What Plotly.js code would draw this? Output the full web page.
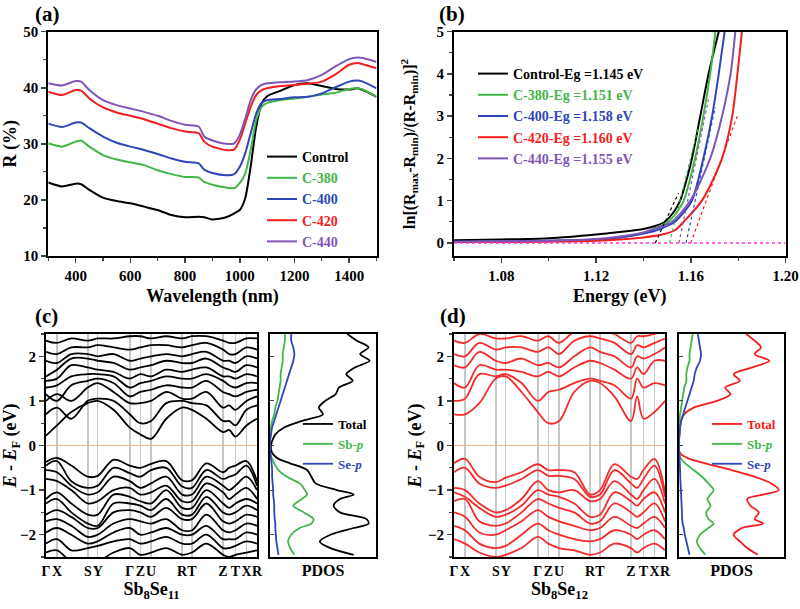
<!DOCTYPE html>
<html><head><meta charset="utf-8">
<script src="https://cdn.plot.ly/plotly-3.0.1.min.js"></script>
<style>html,body{margin:0;padding:0;background:#fff}#plot{width:800px;height:609px}</style>
</head><body><div id="plot"></div>
<script>
// ---------- (a) reflectance ----------
const wavelength = [300,350,400,420,450,500,550,600,650,700,750,800,850,870,900,950,980,1000,1020,1040,1060,1080,1100,1150,1200,1250,1300,1350,1400,1430,1450,1500];
const rControl = [23.1,22.4,22.9,22.8,21.8,20.4,19.8,19.4,18.8,18.2,17.3,16.9,17.0,16.9,16.5,16.9,17.6,18.2,20.3,26.0,33.0,37.2,38.5,39.5,40.5,40.8,40.3,39.8,39.7,39.9,39.6,38.4];
const rC380 = [30.1,29.5,30.4,30.6,29.5,28.0,27.2,26.7,26.2,25.3,24.6,24.1,24.0,23.2,22.7,22.2,22.1,23.0,24.7,28.9,34.2,36.6,37.3,37.8,38.1,38.4,38.8,39.1,39.8,39.9,39.7,38.4];
const rC400 = [33.6,33.0,33.8,33.8,32.8,31.3,30.2,29.5,28.9,28.2,27.4,26.8,26.5,25.4,24.8,24.4,24.6,25.9,28.3,31.9,35.4,37.3,37.8,38.0,38.3,38.4,39.0,40.1,41.1,41.3,41.1,39.9];
const rC420 = [39.3,38.7,39.6,39.5,38.1,36.5,35.6,35.0,34.4,33.6,32.8,32.2,31.9,30.4,29.5,28.9,29.0,30.7,33.6,36.6,38.7,39.6,39.9,40.3,40.5,40.7,41.1,42.4,44.1,44.4,44.2,43.5];
const rC440 = [40.8,40.4,41.2,41.1,39.6,37.8,36.9,36.3,35.7,35.0,34.1,33.4,33.1,31.3,30.6,30.0,30.1,31.6,34.5,37.8,39.7,40.5,40.8,41.0,41.1,41.4,42.3,43.8,45.1,45.4,45.3,44.6];
const sampleNames = ["Control","C-380","C-400","C-420","C-440"];

// ---------- (b) band-gap extraction ----------
const eCtrl = [1.06,1.08,1.10,1.12,1.13,1.14,1.145,1.149,1.153,1.1555,1.158,1.1605,1.164,1.1675,1.1718];
const vCtrl = [0.06,0.08,0.11,0.2,0.26,0.33,0.4,0.5,0.75,1.0,1.45,2.0,3.0,4.0,5.0];
const e380 = [1.06,1.08,1.10,1.12,1.13,1.14,1.145,1.1505,1.154,1.157,1.1618,1.1653,1.1682,1.1704];
const v380 = [0.02,0.03,0.05,0.08,0.13,0.24,0.35,0.5,0.72,1.0,2.0,3.0,4.0,5.0];
const e400 = [1.06,1.08,1.10,1.12,1.13,1.14,1.147,1.1533,1.157,1.1605,1.1653,1.169,1.1718,1.1743];
const v400 = [0.03,0.04,0.05,0.08,0.13,0.22,0.33,0.5,0.72,1.0,2.0,3.0,4.0,5.0];
const e420 = [1.06,1.08,1.10,1.12,1.13,1.14,1.148,1.1533,1.157,1.1647,1.1732,1.1775,1.1797,1.1816];
const v420 = [0.02,0.02,0.03,0.05,0.08,0.13,0.2,0.3,0.5,1.0,2.0,3.0,4.0,5.0];
const e440 = [1.06,1.08,1.10,1.12,1.13,1.14,1.147,1.152,1.1598,1.1682,1.1732,1.1768,1.1788];
const v440 = [0.03,0.04,0.05,0.09,0.15,0.25,0.38,0.5,1.0,2.0,3.0,4.0,5.0];
const bandGaps = [1.145,1.151,1.158,1.160,1.155];
const fitEndE = [1.1548,1.1633,1.1703,1.1796,1.1675];
const fitEndV = [1.18,2.76,3.2,3.0,3.4];
const baselineE = [1.06,1.20];
const baselineV = [0,0];

// ---------- (c),(d) band structures ----------
const kPath = [0,0.052,0.198,0.245,0.397,0.447,0.498,0.645,0.692,0.839,0.898,0.950,1.0];
const kLabels = ["Γ","X","S","Y","Γ","Z","U","R","T","Z","T","X","R"];
const kSample = [0,0.052,0.12,0.198,0.245,0.32,0.397,0.447,0.498,0.57,0.645,0.692,0.76,0.839,0.868,0.898,0.95,1.0];

const bandsSe11 = [
 [0.22,0.45,0.75,0.95,1.0,0.8,0.4,0.25,0.15,0.6,0.85,0.8,0.6,0.3,0.35,0.2,0.45,0.6],
 [0.7,0.85,0.6,1.0,1.05,1.0,0.7,0.5,0.55,0.95,1.0,0.95,0.9,0.55,0.55,0.45,0.8,0.9],
 [1.0,1.15,1.0,1.3,1.4,1.2,0.95,0.95,1.0,1.2,1.05,1.05,1.2,0.85,0.9,0.8,1.0,1.1],
 [1.15,1.0,1.35,1.45,1.5,1.4,1.1,1.2,1.25,1.35,1.3,1.3,1.45,1.2,1.15,1.1,1.2,1.25],
 [1.3,1.35,1.55,1.6,1.6,1.55,1.3,1.4,1.45,1.55,1.5,1.5,1.6,1.45,1.35,1.3,1.4,1.4],
 [1.45,1.5,1.8,1.75,1.7,1.65,1.5,1.6,1.55,1.7,1.65,1.7,1.75,1.55,1.55,1.5,1.6,1.55],
 [1.55,1.7,1.95,1.95,1.9,1.85,1.7,1.75,1.8,1.9,1.85,1.85,1.95,1.75,1.7,1.65,1.8,1.75],
 [1.9,1.85,2.05,2.05,2.0,2.05,1.9,1.95,2.0,2.05,2.0,2.05,2.1,1.9,1.9,1.85,2.0,1.95],
 [2.1,2.05,2.2,2.2,2.25,2.2,2.15,2.2,2.25,2.25,2.2,2.25,2.3,2.15,2.05,2.05,2.2,2.15],
 [2.35,2.3,2.4,2.35,2.4,2.4,2.45,2.45,2.4,2.45,2.4,2.45,2.45,2.35,2.3,2.3,2.4,2.4],
 [-0.37,-0.28,-0.45,-0.7,-0.68,-0.32,-0.45,-0.5,-0.41,-0.35,-0.78,-0.78,-0.4,-0.6,-0.5,-0.45,-0.35,-0.8],
 [-0.45,-0.35,-0.8,-0.95,-0.9,-0.5,-0.62,-0.7,-0.55,-0.5,-0.92,-0.95,-0.55,-0.75,-0.7,-0.65,-0.45,-0.9],
 [-0.55,-0.6,-0.9,-1.1,-1.05,-0.7,-0.8,-0.95,-0.85,-0.7,-1.1,-1.1,-0.7,-0.9,-1.0,-0.9,-0.7,-1.0],
 [-0.75,-0.8,-1.0,-1.3,-1.25,-1.0,-0.95,-1.1,-1.05,-0.9,-1.25,-1.25,-0.85,-1.05,-1.2,-1.1,-0.95,-1.2],
 [-1.2,-1.05,-1.3,-1.55,-1.55,-1.1,-1.15,-1.25,-1.3,-1.0,-1.4,-1.4,-1.0,-1.3,-1.4,-1.3,-1.2,-1.3],
 [-1.3,-1.2,-1.5,-1.75,-1.8,-1.3,-1.3,-1.35,-1.45,-1.2,-1.55,-1.55,-1.15,-1.5,-1.55,-1.5,-1.35,-1.45],
 [-1.55,-1.45,-1.6,-1.85,-1.85,-1.5,-1.45,-1.5,-1.6,-1.4,-1.65,-1.65,-1.3,-1.7,-1.75,-1.7,-1.55,-1.6],
 [-1.7,-1.65,-1.8,-2.05,-2.0,-1.75,-1.65,-1.7,-1.75,-1.65,-1.9,-1.9,-1.55,-1.9,-1.95,-1.9,-1.75,-1.8],
 [-1.95,-1.85,-2.0,-2.2,-2.15,-1.95,-1.85,-2.0,-1.95,-1.85,-2.0,-2.0,-1.8,-2.1,-2.1,-2.1,-1.95,-2.0],
 [-2.2,-2.1,-2.35,-2.3,-2.25,-2.15,-2.1,-2.2,-2.15,-2.05,-2.2,-2.2,-2.0,-2.3,-2.3,-2.25,-2.15,-2.2],
 [-2.4,-2.35,-2.6,-2.6,-2.6,-2.4,-2.3,-2.45,-2.4,-2.3,-2.45,-2.4,-2.2,-2.45,-2.5,-2.45,-2.4,-2.35]
];
const bandsSe12 = [
 [0.7,0.7,0.95,1.5,1.55,1.2,0.75,0.5,0.55,1.2,1.45,1.4,1.1,0.55,1.1,0.6,0.75,1.0],
 [1.0,1.05,1.6,1.55,1.6,1.4,1.0,1.2,1.25,1.4,1.5,1.45,1.35,1.05,1.5,1.3,1.4,1.35],
 [1.4,1.3,1.8,1.7,1.7,1.65,1.55,1.65,1.55,1.75,1.9,1.85,1.7,1.5,1.75,1.6,1.9,1.9],
 [1.8,1.75,2.1,1.9,1.85,1.95,1.8,1.85,1.75,2.0,2.2,2.1,2.0,1.75,2.0,1.95,2.05,2.2],
 [2.05,2.0,2.3,2.15,2.2,2.2,2.1,2.2,2.05,2.35,2.45,2.4,2.3,2.05,2.25,2.2,2.3,2.4],
 [2.35,2.3,2.5,2.4,2.4,2.45,2.35,2.45,2.3,2.55,2.6,2.6,2.5,2.3,2.45,2.45,2.5,2.6],
 [-0.4,-0.3,-0.7,-0.82,-0.72,-0.6,-0.42,-0.55,-0.55,-0.6,-1.1,-1.0,-0.42,-0.7,-0.75,-0.55,-0.3,-1.05],
 [-0.6,-0.5,-0.85,-0.95,-0.9,-0.75,-0.55,-0.68,-0.68,-0.75,-1.15,-1.1,-0.55,-0.85,-0.95,-0.75,-0.45,-1.15],
 [-0.95,-1.0,-1.3,-1.5,-1.45,-1.2,-0.8,-1.0,-1.05,-1.0,-1.25,-1.2,-0.8,-1.1,-1.2,-1.0,-0.75,-1.3],
 [-1.05,-1.15,-1.4,-1.6,-1.55,-1.35,-1.0,-1.1,-1.15,-1.3,-1.6,-1.55,-1.05,-1.25,-1.35,-1.2,-1.05,-1.5],
 [-1.25,-1.2,-1.7,-1.8,-1.75,-1.5,-1.2,-1.3,-1.4,-1.5,-1.75,-1.7,-1.3,-1.5,-1.6,-1.5,-1.3,-1.7],
 [-1.5,-1.6,-1.95,-2.0,-1.9,-1.7,-1.45,-1.6,-1.7,-1.8,-1.9,-1.85,-1.6,-1.8,-1.85,-1.75,-1.6,-1.85],
 [-1.8,-1.9,-2.2,-2.3,-2.25,-2.0,-1.75,-1.9,-2.0,-2.1,-2.15,-2.1,-1.9,-2.0,-2.1,-2.0,-1.9,-2.1],
 [-2.1,-2.2,-2.4,-2.5,-2.45,-2.3,-2.05,-2.2,-2.3,-2.35,-2.45,-2.4,-2.2,-2.3,-2.4,-2.3,-2.2,-2.35]
];

// ---------- PDOS ----------
const pdosEnergy = [2.5,2.35,2.2,2.05,1.9,1.75,1.6,1.45,1.3,1.15,1.0,0.85,0.7,0.55,0.4,0.25,0.1,0.0,-0.1,-0.2,-0.3,-0.4,-0.55,-0.7,-0.85,-1.0,-1.1,-1.2,-1.35,-1.5,-1.65,-1.75,-1.85,-2.0,-2.15,-2.3,-2.45];
const totalSe11 = [0.73,0.82,0.93,0.85,0.94,0.8,0.72,0.78,0.65,0.62,0.52,0.46,0.5,0.3,0.13,0.05,0.02,0.01,0.01,0.03,0.08,0.19,0.35,0.39,0.43,0.63,0.79,0.66,0.6,0.66,0.91,0.93,0.79,0.57,0.47,0.57,0.79];
const sbpSe11 = [0.14,0.14,0.13,0.12,0.12,0.11,0.1,0.1,0.09,0.08,0.07,0.05,0.04,0.02,0.01,0.005,0,0,0,0.005,0.02,0.04,0.08,0.16,0.28,0.33,0.35,0.3,0.22,0.32,0.41,0.39,0.28,0.2,0.17,0.19,0.23];
const sepSe11 = [0.2,0.2,0.22,0.23,0.22,0.2,0.18,0.16,0.14,0.12,0.1,0.08,0.06,0.04,0.02,0.01,0,0,0,0.005,0.01,0.015,0.02,0.02,0.025,0.03,0.03,0.035,0.04,0.04,0.045,0.05,0.05,0.055,0.06,0.07,0.08];
const totalSe12 = [0.64,0.72,0.78,0.72,0.86,0.7,0.52,0.58,0.44,0.49,0.36,0.14,0.05,0.02,0.01,0.005,0,0,0,0.02,0.1,0.25,0.5,0.72,0.88,0.95,0.8,0.65,0.68,0.76,0.72,0.8,0.6,0.52,0.58,0.65,0.75];
const sbpSe12 = [0.13,0.12,0.11,0.1,0.1,0.08,0.07,0.07,0.05,0.04,0.03,0.02,0.01,0.005,0,0,0,0,0,0.005,0.02,0.06,0.14,0.22,0.28,0.33,0.3,0.27,0.3,0.26,0.28,0.33,0.28,0.2,0.17,0.2,0.25];
const sepSe12 = [0.18,0.19,0.2,0.21,0.2,0.17,0.15,0.14,0.12,0.1,0.08,0.06,0.04,0.02,0.01,0.005,0,0,0,0.003,0.005,0.008,0.01,0.012,0.015,0.018,0.02,0.022,0.025,0.028,0.03,0.035,0.045,0.055,0.07,0.085,0.1];

// ---------- styling ----------
const colors = ["#000000","#43b649","#2e46b9","#f51d1d","#7f56b8"];
const FONT = "Liberation Serif, Times New Roman, serif";
const tickFont = {family: FONT, size: 15, color: "#000", weight: "bold"};
const titleFont = {family: FONT, size: 18, color: "#000", weight: "bold"};
const W = 800, H = 609;
const px = v => v / W, py = v => 1 - v / H;

const traces = [];
const rSeries = [rControl, rC380, rC400, rC420, rC440];
rSeries.forEach((r, i) => traces.push({
  x: wavelength, y: r, type: "scatter", mode: "lines", line: {color: colors[i], width: 2, shape: "spline", smoothing: 0.6},
  name: '<span style="color:' + colors[i] + '">' + sampleNames[i] + '</span>', xaxis: "x", yaxis: "y", legend: "legend"
}));

const eSeries = [eCtrl, e380, e400, e420, e440];
const vSeries = [vCtrl, v380, v400, v420, v440];
eSeries.forEach((e, i) => traces.push({
  x: e, y: vSeries[i], type: "scatter", mode: "lines", line: {color: colors[i], width: 2, shape: "spline", smoothing: 0.8},
  name: '<span style="color:' + colors[i] + '">' + sampleNames[i] + '-Eg =' + bandGaps[i].toFixed(3) + ' eV</span>',
  xaxis: "x2", yaxis: "y2", legend: "legend2"
}));
bandGaps.forEach((g, i) => traces.push({
  x: [g, fitEndE[i]], y: [0, fitEndV[i]], type: "scatter", mode: "lines",
  line: {color: colors[i], width: 1.2, dash: "dot"}, showlegend: false, xaxis: "x2", yaxis: "y2"
}));
traces.push({x: baselineE, y: baselineV, type: "scatter", mode: "lines", line: {color: "#ff33cc", width: 1.5, dash: "dot"}, showlegend: false, xaxis: "x2", yaxis: "y2"});

bandsSe11.forEach(b => traces.push({x: kSample, y: b, type: "scatter", mode: "lines", line: {color: "#000", width: 1.8, shape: "spline", smoothing: 1}, showlegend: false, xaxis: "x3", yaxis: "y3"}));
bandsSe12.forEach(b => traces.push({x: kSample, y: b, type: "scatter", mode: "lines", line: {color: "#f52a2a", width: 1.8, shape: "spline", smoothing: 1}, showlegend: false, xaxis: "x5", yaxis: "y5"}));

const pdosC = [[totalSe11, "#000000", "Total"], [sbpSe11, "#43b649", "Sb-<i>p</i>"], [sepSe11, "#2e46b9", "Se-<i>p</i>"]];
pdosC.forEach(p => traces.push({x: p[0], y: pdosEnergy, type: "scatter", mode: "lines", line: {color: p[1], width: 1.8, shape: "spline", smoothing: 0.8},
  name: '<span style="color:' + p[1] + '">' + p[2] + '</span>', xaxis: "x4", yaxis: "y4", legend: "legend3"}));
const pdosD = [[totalSe12, "#f51d1d", "Total"], [sbpSe12, "#43b649", "Sb-<i>p</i>"], [sepSe12, "#2e46b9", "Se-<i>p</i>"]];
pdosD.forEach(p => traces.push({x: p[0], y: pdosEnergy, type: "scatter", mode: "lines", line: {color: p[1], width: 1.8, shape: "spline", smoothing: 0.8},
  name: '<span style="color:' + p[1] + '">' + p[2] + '</span>', xaxis: "x6", yaxis: "y6", legend: "legend4"}));

const frame = {showline: true, linecolor: "#000", linewidth: 2, mirror: true, zeroline: false, showgrid: false, tickfont: tickFont, automargin: false};
const topRow = [py(256), py(31.7)], botRow = [py(557), py(334)];
const bandY = Object.assign({}, frame, {range: [-2.5, 2.5], tickvals: [-2, -1, 0, 1, 2], ticks: "outside", ticklen: 5, tickwidth: 1.5,
  minor: {ticks: "outside", ticklen: 3, dtick: 0.5, tickwidth: 1.2}, zeroline: true, zerolinecolor: "#f7b58f", zerolinewidth: 1.5});
const eTitle = "<i>E</i> - <i>E</i><sub>F</sub> (eV)";
const bandX = Object.assign({}, frame, {range: [0, 1], tickvals: kPath, ticktext: kLabels, ticks: "", tickangle: 0, showgrid: true, gridcolor: "#c6c6c6", gridwidth: 1.5,
  tickfont: {family: FONT, size: 14, color: "#000", weight: "bold"}});
const pdosY = Object.assign({}, frame, {range: [-2.5, 2.5], tickvals: [-2, -1, 0, 1, 2], ticks: "inside", ticklen: 4, showticklabels: false});
const pdosX = Object.assign({}, frame, {range: [0, 1.0], showticklabels: false, ticks: "", title: {text: "PDOS", font: {family: FONT, size: 16, color: "#000", weight: "bold"}, standoff: 7}});

const legBase = {bgcolor: "rgba(0,0,0,0)", borderwidth: 0, xanchor: "left", yanchor: "top", tracegroupgap: 0, itemclick: false};
const legFont14 = {family: FONT, size: 14, color: "#000", weight: "bold"};
const legFont13 = {family: FONT, size: 13, color: "#000", weight: "bold"};

const layout = {
  width: W, height: H, margin: {l: 0, r: 0, t: 0, b: 0}, paper_bgcolor: "#fff", plot_bgcolor: "#fff", showlegend: true,
  font: {family: FONT, color: "#000"},
  xaxis: Object.assign({}, frame, {anchor: "y", domain: [px(48.3), px(376.5)], range: [300, 1500], tickvals: [400, 600, 800, 1000, 1200, 1400], ticks: "outside", ticklen: 5, tickwidth: 1.5,
    minor: {ticks: "outside", ticklen: 3, dtick: 100, tickwidth: 1.2}, title: {text: "Wavelength (nm)", font: titleFont, standoff: 6}}),
  yaxis: Object.assign({}, frame, {anchor: "x", domain: topRow, range: [10, 50], dtick: 10, ticks: "outside", ticklen: 5, tickwidth: 1.5,
    minor: {ticks: "outside", ticklen: 3, dtick: 5, tickwidth: 1.2}, title: {text: "R (%)", font: titleFont, standoff: 9}}),
  xaxis2: Object.assign({}, frame, {anchor: "y2", domain: [px(454), px(785.5)], range: [1.06, 1.20], tickvals: [1.08, 1.12, 1.16, 1.20], tickformat: ".2f", ticks: "outside", ticklen: 5, tickwidth: 1.5,
    minor: {ticks: "outside", ticklen: 3, dtick: 0.02, tickwidth: 1.2}, title: {text: "Energy (eV)", font: titleFont, standoff: 6}}),
  yaxis2: Object.assign({}, frame, {anchor: "x2", domain: topRow, range: [-0.31, 5], dtick: 1, ticks: "outside", ticklen: 5, tickwidth: 1.5,
    minor: {ticks: "outside", ticklen: 3, dtick: 0.5, tickwidth: 1.2},
    title: {text: "ln[(R<sub>max</sub>-R<sub>min</sub>)/(R-R<sub>min</sub>)]<sup>2</sup>", font: {family: FONT, size: 16, color: "#000", weight: "bold"}, standoff: 17}}),
  xaxis3: Object.assign({}, bandX, {anchor: "y3", domain: [px(46), px(257)], title: {text: "Sb<sub>8</sub>Se<sub>11</sub>", font: titleFont, standoff: 5}}),
  yaxis3: Object.assign({}, bandY, {anchor: "x3", domain: botRow, title: {text: eTitle, font: titleFont, standoff: 9}}),
  xaxis4: Object.assign({}, pdosX, {anchor: "y4", domain: [px(270), px(376)]}),
  yaxis4: Object.assign({}, pdosY, {anchor: "x4", domain: botRow}),
  xaxis5: Object.assign({}, bandX, {anchor: "y5", domain: [px(454), px(665)], title: {text: "Sb<sub>8</sub>Se<sub>12</sub>", font: titleFont, standoff: 5}}),
  yaxis5: Object.assign({}, bandY, {anchor: "x5", domain: botRow, title: {text: eTitle, font: titleFont, standoff: 2}}),
  xaxis6: Object.assign({}, pdosX, {anchor: "y6", domain: [px(679), px(784)]}),
  yaxis6: Object.assign({}, pdosY, {anchor: "x6", domain: botRow}),
  legend: Object.assign({}, legBase, {x: px(262), y: py(141), font: legFont14}),
  legend2: Object.assign({}, legBase, {x: px(473), y: py(58), font: legFont14}),
  legend3: Object.assign({}, legBase, {x: px(298), y: py(409), font: legFont13}),
  legend4: Object.assign({}, legBase, {x: px(707), y: py(409), font: legFont13}),
  annotations: [
    {text: "(a)", x: px(33), y: py(0), xref: "paper", yref: "paper", xanchor: "left", yanchor: "top", showarrow: false, font: {family: FONT, size: 21, color: "#000", weight: "bold"}},
    {text: "(b)", x: px(437), y: py(0), xref: "paper", yref: "paper", xanchor: "left", yanchor: "top", showarrow: false, font: {family: FONT, size: 21, color: "#000", weight: "bold"}},
    {text: "(c)", x: px(33), y: py(302), xref: "paper", yref: "paper", xanchor: "left", yanchor: "top", showarrow: false, font: {family: FONT, size: 21, color: "#000", weight: "bold"}},
    {text: "(d)", x: px(438), y: py(302), xref: "paper", yref: "paper", xanchor: "left", yanchor: "top", showarrow: false, font: {family: FONT, size: 21, color: "#000", weight: "bold"}}
  ]
};
Plotly.newPlot("plot", traces, layout, {staticPlot: true, displayModeBar: false});
</script></body></html>
